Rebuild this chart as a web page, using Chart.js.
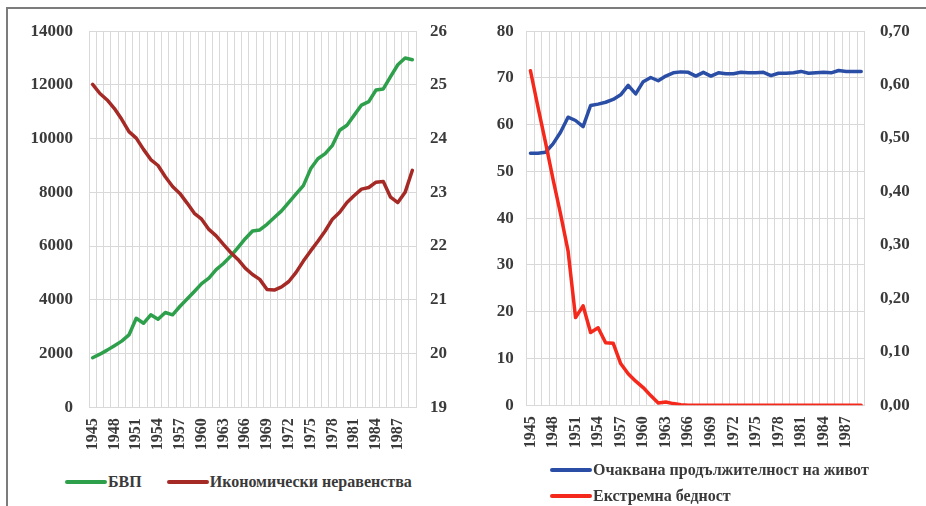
<!DOCTYPE html>
<html>
<head>
<meta charset="utf-8">
<script src="https://cdn.jsdelivr.net/npm/chart.js@4.4.0/dist/chart.umd.min.js"></script>
<style>
  body { margin: 0; background: #fff; width: 926px; height: 506px; overflow: hidden; position: relative; font-family: 'Liberation Serif', 'Times New Roman', serif; }
  #frame { position: absolute; left: 6px; top: 7px; width: 920px; height: 499px; border-top: 2px solid #7c7c7c; border-left: 2px solid #7c7c7c; box-sizing: border-box; }
  .box { position: absolute; }
  .legend { position: absolute; font-weight: bold; font-size: 16px; color: #3a3a3a; }
  .item { display: flex; align-items: center; height: 26px; white-space: nowrap; }
  .line { display: inline-block; width: 42px; height: 4px; border-radius: 2px; margin-right: 1px; }
</style>
</head>
<body>
<div id="frame"></div>

<div class="box" style="left:7px; top:4.8px; width:456px; height:456.2px;">
  <canvas id="left-chart"></canvas>
</div>
<div class="box" style="left:463px; top:5.8px; width:463px; height:453.2px;">
  <canvas id="right-chart"></canvas>
</div>

<div class="legend" style="left:65px; top:469px; display:flex;">
  <div class="item"><span class="line" style="background:#2ea04c"></span>БВП</div>
  <div class="item" style="margin-left:25px;"><span class="line" style="background:#a52a26"></span>Икономически неравенства</div>
</div>
<div class="legend" style="left:550px; top:457px;">
  <div class="item"><span class="line" style="background:#2a4ea6"></span>Очаквана продължителност на живот</div>
  <div class="item"><span class="line" style="background:#f5281c"></span>Екстремна бедност</div>
</div>

<script>
// години 1945 - 1989
const years = [];
for (let y = 1945; y <= 1989; y++) years.push(String(y));

// лява графика
const gdp = [1840, 1975, 2125, 2290, 2460, 2690, 3310, 3125, 3440, 3275,
             3525, 3440, 3750, 4025, 4310, 4600, 4810, 5125, 5350, 5625,
             5940, 6275, 6560, 6600, 6810, 7060, 7310, 7625, 7940, 8250,
             8875, 9250, 9440, 9750, 10310, 10500, 10875, 11250, 11375, 11810,
             11850, 12310, 12750, 13000, 12940];
const inequality = [25.01, 24.84, 24.72, 24.56, 24.36, 24.13, 24.01, 23.80, 23.61, 23.50,
                    23.29, 23.11, 22.98, 22.80, 22.61, 22.50, 22.31, 22.19, 22.03, 21.88,
                    21.75, 21.59, 21.47, 21.38, 21.19, 21.18, 21.24, 21.34, 21.51, 21.72,
                    21.91, 22.09, 22.28, 22.50, 22.63, 22.81, 22.94, 23.06, 23.09, 23.19,
                    23.20, 22.91, 22.81, 23.00, 23.41];

// дясна графика
const lifeExp = [53.9, 53.9, 54.1, 55.9, 58.4, 61.6, 60.9, 59.6, 64.1, 64.4,
                 64.8, 65.4, 66.4, 68.4, 66.6, 69.2, 70.1, 69.4, 70.4, 71.1,
                 71.3, 71.2, 70.4, 71.2, 70.4, 71.1, 70.9, 70.9, 71.2, 71.1,
                 71.1, 71.2, 70.5, 71.0, 71.0, 71.1, 71.4, 71.0, 71.1, 71.2,
                 71.1, 71.6, 71.4, 71.4, 71.4];
const poverty = [0.626, 0.558, 0.492, 0.423, 0.358, 0.289, 0.164, 0.186, 0.136, 0.145,
                 0.117, 0.116, 0.078, 0.059, 0.045, 0.033, 0.018, 0.004, 0.006, 0.003,
                 0.001, 0, 0, 0, 0, 0, 0, 0, 0, 0,
                 0, 0, 0, 0, 0, 0, 0, 0, 0, 0,
                 0, 0, 0, 0, 0];

const tickFont = { family: "'Liberation Serif', 'Times New Roman', serif", size: 17, weight: 'bold' };
const yearFont = { family: "'Liberation Serif', 'Times New Roman', serif", size: 16, weight: 'bold' };
const gridColor = '#d9d9d9';
const textColor = '#3a3a3a';

function lineSet(label, data, color, axis) {
    return {
        label: label,
        data: data,
        yAxisID: axis,
        borderColor: color,
        borderWidth: 3.5,
        pointRadius: 0,
        tension: 0,
        fill: false,
        borderJoinStyle: 'round',
        borderCapStyle: 'round'
    };
}

function xAxis() {
    return {
        offset: true,
        grid: { color: gridColor, offset: true, drawTicks: false },
        border: { color: gridColor },
        ticks: {
            autoSkip: false,
            minRotation: 90,
            maxRotation: 90,
            padding: 11,
            color: textColor,
            font: yearFont,
            callback: function(val, i) { return i % 3 === 0 ? years[i] : ''; } // всяка трета година
        }
    };
}

Chart.defaults.animation = false;

new Chart(document.getElementById('left-chart'), {
    type: 'line',
    data: {
        labels: years,
        datasets: [
            lineSet('Икономически неравенства', inequality, '#a52a26', 'y1'),
            lineSet('БВП', gdp, '#2ea04c', 'y')
        ]
    },
    options: {
        responsive: true,
        maintainAspectRatio: false,
        // chart.js брои padding на тиковете два пъти, затова е по-малко тук
        layout: { padding: { left: 7.5, right: 2, top: 10, bottom: 0 } },
        plugins: { legend: { display: false }, tooltip: { enabled: false } },
        scales: {
            x: xAxis(),
            y: {
                position: 'left',
                min: 0, max: 14000,
                grid: { color: gridColor, drawTicks: false },
                border: { color: gridColor },
                ticks: { stepSize: 2000, padding: 16, color: textColor, font: tickFont,
                         callback: v => String(v) }
            },
            y1: {
                position: 'right',
                min: 19, max: 26,
                grid: { display: false, drawTicks: false },
                border: { color: gridColor },
                ticks: { stepSize: 1, padding: 14, color: textColor, font: tickFont }
            }
        }
    }
});

new Chart(document.getElementById('right-chart'), {
    type: 'line',
    data: {
        labels: years,
        datasets: [
            lineSet('Екстремна бедност', poverty, '#f5281c', 'y1'),
            lineSet('Очаквана продължителност на живот', lifeExp, '#2a4ea6', 'y')
        ]
    },
    options: {
        responsive: true,
        maintainAspectRatio: false,
        layout: { padding: { left: 20.7, right: 1.3, top: 10, bottom: 0 } },
        plugins: { legend: { display: false }, tooltip: { enabled: false } },
        scales: {
            x: xAxis(),
            y: {
                position: 'left',
                min: 0, max: 80,
                grid: { color: gridColor, drawTicks: false },
                border: { color: gridColor },
                ticks: { stepSize: 10, padding: 13, color: textColor, font: tickFont }
            },
            y1: {
                position: 'right',
                min: 0, max: 0.7,
                grid: { display: false, drawTicks: false },
                border: { color: gridColor },
                ticks: {
                    stepSize: 0.1, padding: 15, color: textColor, font: tickFont,
                    callback: function(v) { return v.toFixed(2).replace('.', ','); }
                }
            }
        }
    }
});
</script>
</body>
</html>
